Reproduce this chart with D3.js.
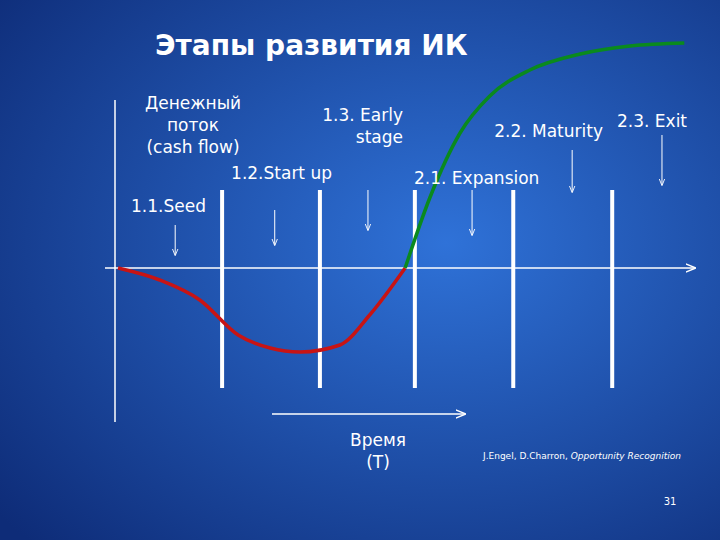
<!DOCTYPE html>
<html><head><meta charset="utf-8">
<script src="https://cdn.jsdelivr.net/npm/d3@7"></script>
<style>body{margin:0;background:#0b2a6e}text{font-family:"DejaVu Sans",sans-serif;fill:#fff}</style>
</head><body><div id="chart"></div>
<script>
// cash flow curve (time units 0..100, cash units)
var redT = [0, 7.3, 14.3, 21, 26.6, 31.8, 38.8, 44, 50.2];
var redV = [0, -12, -32, -67, -80, -84, -77, -47, 0];
var greenT = [50.2, 54.5, 59.8, 65, 72, 80.8, 89.5, 99];
var greenV = [0, 70, 135, 172, 198, 214, 222, 225];
// stage borders and stage arrows
var borders = [18.2, 35.3, 51.9, 69.1, 86.4];
var arrowT = [10, 27.4, 43.7, 61.9, 79.4, 95.1];
var arrowTop = [225, 210, 190, 190, 150, 135];
var arrowBot = [255, 245, 230, 235, 192, 185];

var W = 720, H = 540;
var svg = d3.select("#chart").append("svg").attr("width", W).attr("height", H);
var defs = svg.append("defs");
var g = defs.append("radialGradient").attr("id", "bg").attr("cx", "62%").attr("cy", "45%").attr("r", "80%");
g.append("stop").attr("offset", "0%").attr("stop-color", "#2f72d8");
g.append("stop").attr("offset", "100%").attr("stop-color", "#0e2c78");
var mk = defs.append("marker").attr("id", "ah").attr("viewBox", "0 0 10 10").attr("refX", 9).attr("refY", 5)
    .attr("markerWidth", 7).attr("markerHeight", 7).attr("orient", "auto");
mk.append("path").attr("d", "M0,1L10,5L0,9").attr("fill", "none").attr("stroke", "#fff").attr("stroke-width", 1.3);
svg.append("rect").attr("width", W).attr("height", H).attr("fill", "url(#bg)");

var x = d3.scaleLinear().domain([0, 100]).range([118, 690]);
var y = d3.scaleLinear().domain([-100, 250]).range([368, 18]);

// axes
svg.append("line").attr("x1", 115).attr("x2", 115).attr("y1", 100).attr("y2", 422).attr("stroke", "#fff").attr("stroke-width", 1.5);
svg.append("line").attr("x1", 105).attr("x2", 695).attr("y1", y(0)).attr("y2", y(0)).attr("stroke", "#fff").attr("stroke-width", 1.5).attr("marker-end", "url(#ah)");

svg.selectAll(".border").data(borders).enter().append("line")
    .attr("x1", d => x(d)).attr("x2", d => x(d)).attr("y1", 190).attr("y2", 388)
    .attr("stroke", "#fff").attr("stroke-width", 4);

var line = d3.line().x(d => x(d[0])).y(d => y(d[1])).curve(d3.curveMonotoneX);
svg.append("path").attr("d", line(redT.map((t, i) => [t, redV[i]]))).attr("fill", "none").attr("stroke", "#c81414").attr("stroke-width", 3.5);
svg.append("path").attr("d", line(greenT.map((t, i) => [t, greenV[i]]))).attr("fill", "none").attr("stroke", "#0a8a1e").attr("stroke-width", 3.5);

svg.selectAll(".arr").data(arrowT).enter().append("line")
    .attr("x1", d => x(d)).attr("x2", d => x(d))
    .attr("y1", (d, i) => arrowTop[i]).attr("y2", (d, i) => arrowBot[i])
    .attr("stroke", "#fff").attr("stroke-width", 1).attr("marker-end", "url(#ah)");

// time arrow
svg.append("line").attr("x1", 272).attr("x2", 465).attr("y1", 414).attr("y2", 414).attr("stroke", "#fff").attr("stroke-width", 1.5).attr("marker-end", "url(#ah)");

function txt(s, px, py, size, anchor, extra) {
  var t = svg.append("text").attr("x", px).attr("y", py).attr("font-size", size).attr("text-anchor", anchor || "start").text(s);
  if (extra) extra(t);
  return t;
}
txt("Этапы развития ИК", 155, 55, 28, "start", t => t.attr("font-weight", "bold").attr("font-family", "Liberation Sans, Arial"));
txt("Денежный", 193, 109, 17, "middle");
txt("поток", 193, 131, 17, "middle");
txt("(cash flow)", 193, 153, 17, "middle");
txt("1.3. Early", 403, 121, 17, "end");
txt("stage", 403, 143, 17, "end");
txt("1.2.Start up", 332, 179, 17, "end");
txt("1.1.Seed", 131, 212, 17, "start");
txt("2.2. Maturity", 603, 137, 17, "end");
txt("2.3. Exit", 617, 127, 17, "start");
txt("2.1. Expansion", 414, 184, 17, "start");
txt("Время", 378, 446, 17, "middle");
txt("(T)", 378, 468, 17, "middle");
var c = txt("J.Engel, D.Charron, ", 483, 459, 9, "start");
c.append("tspan").attr("font-style", "italic").text("Opportunity Recognition");
txt("31", 670, 505, 10, "middle");
</script></body></html>
